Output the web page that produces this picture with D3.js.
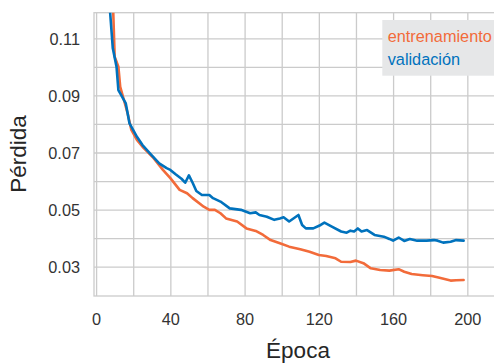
<!DOCTYPE html>
<html>
<head>
<meta charset="utf-8">
<script src="https://cdn.jsdelivr.net/npm/d3@7"></script>
<style>
  html, body { margin: 0; padding: 0; background: #fff; }
  svg { display: block; font-family: "Liberation Sans", Arial, sans-serif; }
</style>
</head>
<body>
<svg id="chart" width="494" height="363"></svg>
<script>
// ---- data ----
const seriesNames = ["entrenamiento", "validación"];
const epochsTrain = [9, 10, 12, 13, 15, 17, 19, 22, 25, 31, 36, 40, 45, 49, 52, 58, 61, 64, 67, 70, 76, 81, 86, 90, 94, 99, 104, 110, 115, 120, 124, 129, 132, 137, 140, 144, 148, 153, 158, 163, 166, 170, 176, 181, 185, 191, 194, 198];
const lossTrain = [0.124, 0.1036, 0.1001, 0.0930, 0.0884, 0.0837, 0.0779, 0.0744, 0.0720, 0.0680, 0.0639, 0.0610, 0.0569, 0.0557, 0.0540, 0.0510, 0.0499, 0.0499, 0.0487, 0.0469, 0.0458, 0.0434, 0.0425, 0.0411, 0.0393, 0.0382, 0.0370, 0.0361, 0.0352, 0.0341, 0.0337, 0.0329, 0.0317, 0.0316, 0.0321, 0.0312, 0.0294, 0.0288, 0.0286, 0.0291, 0.0282, 0.0274, 0.0270, 0.0267, 0.0261, 0.0251, 0.0252, 0.0253];
const epochsVal = [7, 9, 11, 12, 13, 16, 18, 22, 25, 29, 34, 38, 40, 43, 46, 48, 50, 52, 54, 57, 61, 63, 67, 72, 78, 83, 86, 88, 92, 96, 99, 101, 104, 109, 111, 113, 117, 121, 123, 127, 132, 135, 137, 139, 141, 143, 146, 150, 155, 158, 160, 163, 166, 169, 173, 178, 182, 184, 187, 191, 194, 198];
const lossVal = [0.124, 0.1065, 0.1001, 0.0919, 0.0907, 0.0872, 0.0802, 0.0755, 0.0726, 0.0697, 0.0662, 0.0645, 0.0639, 0.0623, 0.0608, 0.0594, 0.0620, 0.0594, 0.0565, 0.0551, 0.0551, 0.0540, 0.0528, 0.0504, 0.0499, 0.0487, 0.0490, 0.0481, 0.0475, 0.0464, 0.0469, 0.0473, 0.0458, 0.0481, 0.0446, 0.0434, 0.0434, 0.0446, 0.0454, 0.0440, 0.0423, 0.0419, 0.0426, 0.0423, 0.0434, 0.0423, 0.0428, 0.0411, 0.0405, 0.0397, 0.0391, 0.0402, 0.0390, 0.0397, 0.0391, 0.0391, 0.0393, 0.0391, 0.0384, 0.0387, 0.0393, 0.0391];
const xGridTicks = [0, 20, 40, 60, 80, 100, 120, 140, 160, 180, 200];
const xLabelTicks = [0, 40, 80, 120, 160, 200];
const yGridTicks = [0.03, 0.04, 0.05, 0.06, 0.07, 0.08, 0.09, 0.10, 0.11];
const yLabelTicks = [0.03, 0.05, 0.07, 0.09, 0.11];

// ---- layout ----
const colors = ["#f26b3a", "#0072bd"];
const mLeft = 94, mRight = 500, mTop = 12.7, mBottom = 296;
const svg = d3.select("#chart");

const x = d3.scaleLinear().domain([-1.13, 217.6]).range([mLeft, mRight]);
const y = d3.scaleLinear().domain([0.0197, 0.119]).range([mBottom, mTop]);

// clip
svg.append("defs").append("clipPath").attr("id", "plotclip")
  .append("rect").attr("x", mLeft).attr("y", mTop).attr("width", mRight - mLeft).attr("height", mBottom - mTop);

// grid via axes
const gx = svg.append("g").attr("transform", `translate(0,${mBottom})`)
  .call(d3.axisBottom(x).tickValues(xGridTicks).tickSize(-(mBottom - mTop)).tickPadding(0)
    .tickFormat(d => xLabelTicks.includes(d) ? String(d) : ""));
gx.select(".domain").remove();
gx.selectAll(".tick line").attr("stroke", "#cbcbcb").attr("stroke-width", 1.3);
gx.selectAll(".tick text").attr("fill", "#333").attr("font-size", 16.3)
  .attr("y", 29).attr("dy", 0);

const gy = svg.append("g").attr("transform", `translate(${mLeft},0)`)
  .call(d3.axisLeft(y).tickValues(yGridTicks).tickSize(-(mRight - mLeft)).tickPadding(14)
    .tickFormat(d => yLabelTicks.some(v => Math.abs(v - d) < 1e-9) ? d3.format(".2f")(d) : ""));
gy.select(".domain").remove();
gy.selectAll(".tick line").attr("stroke", "#cbcbcb").attr("stroke-width", 1.3);
gy.selectAll(".tick text").attr("fill", "#333").attr("font-size", 16.3).attr("dy", "0.35em");

// frame
svg.append("rect").attr("x", mLeft).attr("y", mTop).attr("width", mRight - mLeft).attr("height", mBottom - mTop)
  .attr("fill", "none").attr("stroke", "#cbcbcb").attr("stroke-width", 1.3);

// lines
const line = d3.line().x(d => x(d[0])).y(d => y(d[1]));
const plot = svg.append("g").attr("clip-path", "url(#plotclip)");
const seriesData = [
  d3.zip(epochsTrain, lossTrain),
  d3.zip(epochsVal, lossVal)
];
seriesData.forEach((data, i) => {
  plot.append("path").datum(data)
    .attr("fill", "none").attr("stroke", colors[i]).attr("stroke-width", 2.6)
    .attr("stroke-linejoin", "round").attr("stroke-linecap", "round")
    .attr("d", line);
});

// legend
const leg = svg.append("g");
leg.append("rect").attr("x", 382.3).attr("y", 20).attr("width", 115).attr("height", 55.7).attr("fill", "#e6e7e8");
seriesNames.forEach((name, i) => {
  leg.append("text").attr("x", 387.7).attr("y", 41.7 + i * 23.3)
    .attr("font-size", 16.3).attr("fill", colors[i]).text(name);
});

// axis labels
svg.append("text").attr("x", 298).attr("y", 357.7).attr("text-anchor", "middle")
  .attr("font-size", 22.5).attr("fill", "#262626").text("Época");
svg.append("text").attr("transform", "translate(26,154) rotate(-90)").attr("text-anchor", "middle")
  .attr("font-size", 22.5).attr("fill", "#262626").text("Pérdida");
</script>
</body>
</html>
